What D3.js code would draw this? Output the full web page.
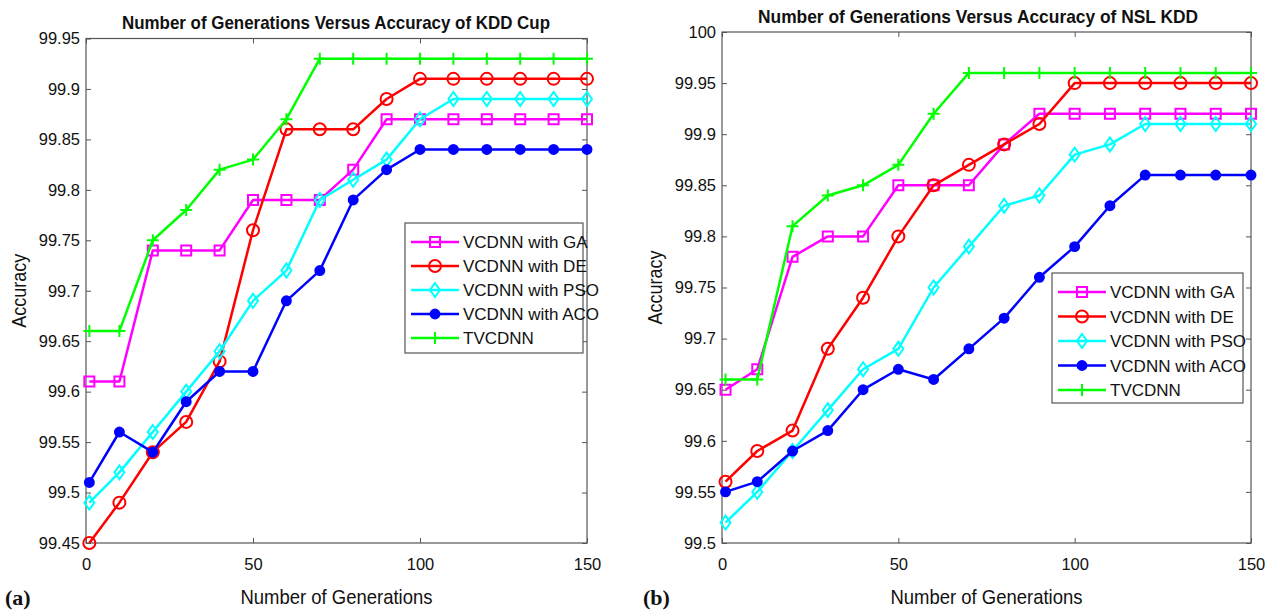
<!DOCTYPE html>
<html>
<head>
<meta charset="utf-8">
<script src="https://cdn.jsdelivr.net/npm/d3@7"></script>
<style>
  body { margin: 0; background: #fff; }
  svg { display: block; }
  text { font-family: "Liberation Sans Narrow", "Arial Narrow", "Liberation Sans", Arial, sans-serif; fill: #111; }
</style>
</head>
<body>
<svg id="chart" width="1277" height="611"></svg>
<script>
// generations on the x axis (first run is generation 1)
const generations = [1, 10, 20, 30, 40, 50, 60, 70, 80, 90, 100, 110, 120, 130, 140, 150];

const seriesNames = ["VCDNN with GA", "VCDNN with DE", "VCDNN with PSO", "VCDNN with ACO", "TVCDNN"];

// (a) KDD Cup
const kddGA  = [99.61, 99.61, 99.74, 99.74, 99.74, 99.79, 99.79, 99.79, 99.82, 99.87, 99.87, 99.87, 99.87, 99.87, 99.87, 99.87];
const kddDE  = [99.45, 99.49, 99.54, 99.57, 99.63, 99.76, 99.86, 99.86, 99.86, 99.89, 99.91, 99.91, 99.91, 99.91, 99.91, 99.91];
const kddPSO = [99.49, 99.52, 99.56, 99.60, 99.64, 99.69, 99.72, 99.79, 99.81, 99.83, 99.87, 99.89, 99.89, 99.89, 99.89, 99.89];
const kddACO = [99.51, 99.56, 99.54, 99.59, 99.62, 99.62, 99.69, 99.72, 99.79, 99.82, 99.84, 99.84, 99.84, 99.84, 99.84, 99.84];
const kddTV  = [99.66, 99.66, 99.75, 99.78, 99.82, 99.83, 99.87, 99.93, 99.93, 99.93, 99.93, 99.93, 99.93, 99.93, 99.93, 99.93];
const kddTicks = [99.45, 99.5, 99.55, 99.6, 99.65, 99.7, 99.75, 99.8, 99.85, 99.9, 99.95];

// (b) NSL KDD
const nslGA  = [99.65, 99.67, 99.78, 99.80, 99.80, 99.85, 99.85, 99.85, 99.89, 99.92, 99.92, 99.92, 99.92, 99.92, 99.92, 99.92];
const nslDE  = [99.56, 99.59, 99.61, 99.69, 99.74, 99.80, 99.85, 99.87, 99.89, 99.91, 99.95, 99.95, 99.95, 99.95, 99.95, 99.95];
const nslPSO = [99.52, 99.55, 99.59, 99.63, 99.67, 99.69, 99.75, 99.79, 99.83, 99.84, 99.88, 99.89, 99.91, 99.91, 99.91, 99.91];
const nslACO = [99.55, 99.56, 99.59, 99.61, 99.65, 99.67, 99.66, 99.69, 99.72, 99.76, 99.79, 99.83, 99.86, 99.86, 99.86, 99.86];
const nslTV  = [99.66, 99.66, 99.81, 99.84, 99.85, 99.87, 99.92, 99.96, 99.96, 99.96, 99.96, 99.96, 99.96, 99.96, 99.96, 99.96];
const nslTicks = [99.5, 99.55, 99.6, 99.65, 99.7, 99.75, 99.8, 99.85, 99.9, 99.95, 100];

const xTicks = [0, 50, 100, 150];

const colors  = ["#ff00ff", "#ff0000", "#00ffff", "#0000ff", "#00ff00"];
const markers = ["square", "circle", "diamond", "dot", "plus"];

const svg = d3.select("#chart");

function markerPath(type) {
  if (type === "square") return "M-5,-5H5V5H-5Z";
  if (type === "circle") return d3.symbol().type(d3.symbolCircle).size(Math.PI * 36)();
  if (type === "diamond") return "M0,-7L5,0L0,7L-5,0Z";
  if (type === "dot") return d3.symbol().type(d3.symbolCircle).size(Math.PI * 20)();
  return "M-6,0H6M0,-6V6";
}

function drawMarker(g, type, color) {
  g.append("path")
    .attr("d", markerPath(type))
    .attr("fill", type === "dot" ? color : "none")
    .attr("stroke", color)
    .attr("stroke-width", 2);
}

function panel(opt) {
  const x = d3.scaleLinear().domain([0, 150]).range([opt.left, opt.right]);
  const y = d3.scaleLinear().domain(opt.yDomain).range([opt.bottom, opt.top]);
  const g = svg.append("g");
  const fmt = d => String(+d.toFixed(2));

  // axes, ticks pointing inward
  g.append("g").attr("transform", "translate(" + opt.left + ",0)")
    .call(d3.axisLeft(y).tickValues(opt.yTicks).tickFormat(fmt).tickSize(-5).tickPadding(6))
    .call(a => a.select(".domain").remove());
  g.append("g").attr("transform", "translate(" + opt.right + ",0)")
    .call(d3.axisRight(y).tickValues(opt.yTicks).tickFormat("").tickSize(-5))
    .call(a => a.select(".domain").remove());
  g.append("g").attr("transform", "translate(0," + opt.bottom + ")")
    .call(d3.axisBottom(x).tickValues(xTicks).tickFormat(d3.format("d")).tickSize(-5).tickPadding(15))
    .call(a => a.select(".domain").remove());
  g.append("g").attr("transform", "translate(0," + opt.top + ")")
    .call(d3.axisTop(x).tickValues(xTicks).tickFormat("").tickSize(-5))
    .call(a => a.select(".domain").remove());
  g.selectAll(".tick line").attr("stroke", "#555");
  g.selectAll(".tick text").style("font-size", "16.5px").attr("fill", "#111");

  g.append("rect")
    .attr("x", opt.left).attr("y", opt.top)
    .attr("width", opt.right - opt.left).attr("height", opt.bottom - opt.top)
    .attr("fill", "none").attr("stroke", "#555").attr("stroke-width", 1.2);

  // series
  const line = d3.line().x((d, i) => x(generations[i])).y(d => y(d));
  opt.series.forEach((vals, s) => {
    g.append("path").datum(vals)
      .attr("d", line)
      .attr("fill", "none")
      .attr("stroke", colors[s])
      .attr("stroke-width", 2.5)
      .attr("stroke-linejoin", "round");
    vals.forEach((v, i) => {
      const m = g.append("g").attr("transform", "translate(" + x(generations[i]) + "," + y(v) + ")");
      drawMarker(m, markers[s], colors[s]);
    });
  });

  // legend
  const lg = g.append("g");
  lg.append("rect")
    .attr("x", opt.legend.x).attr("y", opt.legend.y)
    .attr("width", opt.legend.w).attr("height", opt.legend.h)
    .attr("fill", "#fff").attr("stroke", "#555").attr("stroke-width", 1.2);
  seriesNames.forEach((name, s) => {
    const ry = opt.legend.y + 19 + s * opt.legend.step;
    const lx = opt.legend.x + 6;
    lg.append("line")
      .attr("x1", lx).attr("x2", lx + 48).attr("y1", ry).attr("y2", ry)
      .attr("stroke", colors[s]).attr("stroke-width", 2.5);
    drawMarker(lg.append("g").attr("transform", "translate(" + (lx + 24) + "," + ry + ")"), markers[s], colors[s]);
    lg.append("text")
      .attr("x", lx + 52).attr("y", ry + 6)
      .style("font-size", "17px")
      .text(name);
  });

  // titles and labels
  g.append("text")
    .attr("x", opt.titleX - opt.titleW / 2).attr("y", opt.titleY)
    .attr("textLength", opt.titleW).attr("lengthAdjust", "spacingAndGlyphs")
    .style("font-size", "19px").style("font-weight", "bold")
    .text(opt.title);
  const cx = (opt.left + opt.right) / 2;
  g.append("text")
    .attr("x", cx - 96).attr("y", 604)
    .attr("textLength", 192).attr("lengthAdjust", "spacingAndGlyphs")
    .style("font-size", "21px")
    .text("Number of Generations");
  g.append("text")
    .attr("transform", "translate(" + opt.yLabelX + "," + ((opt.top + opt.bottom) / 2 + 37) + ") rotate(-90)")
    .attr("textLength", 74).attr("lengthAdjust", "spacingAndGlyphs")
    .style("font-size", "21px")
    .text("Accuracy");
  g.append("text")
    .attr("x", opt.tagX).attr("y", 605)
    .style("font-family", "'Liberation Serif', 'Times New Roman', serif")
    .style("font-size", "22px").style("font-weight", "bold")
    .text(opt.tag);
}

panel({
  left: 86, right: 587, top: 38.5, bottom: 543,
  yDomain: [99.45, 99.95], yTicks: kddTicks,
  series: [kddGA, kddDE, kddPSO, kddACO, kddTV],
  legend: { x: 405, y: 223, w: 178, h: 130, step: 24 },
  title: "Number of Generations Versus Accuracy of KDD Cup", titleX: 336, titleY: 29, titleW: 428,
  yLabelX: 26, tag: "(a)", tagX: 5
});

panel({
  left: 722, right: 1251, top: 32, bottom: 543,
  yDomain: [99.5, 100], yTicks: nslTicks,
  series: [nslGA, nslDE, nslPSO, nslACO, nslTV],
  legend: { x: 1052, y: 273, w: 191, h: 130, step: 24.5 },
  title: "Number of Generations Versus Accuracy of NSL KDD", titleX: 978, titleY: 23, titleW: 440,
  yLabelX: 662, tag: "(b)", tagX: 643
});
</script>
</body>
</html>
